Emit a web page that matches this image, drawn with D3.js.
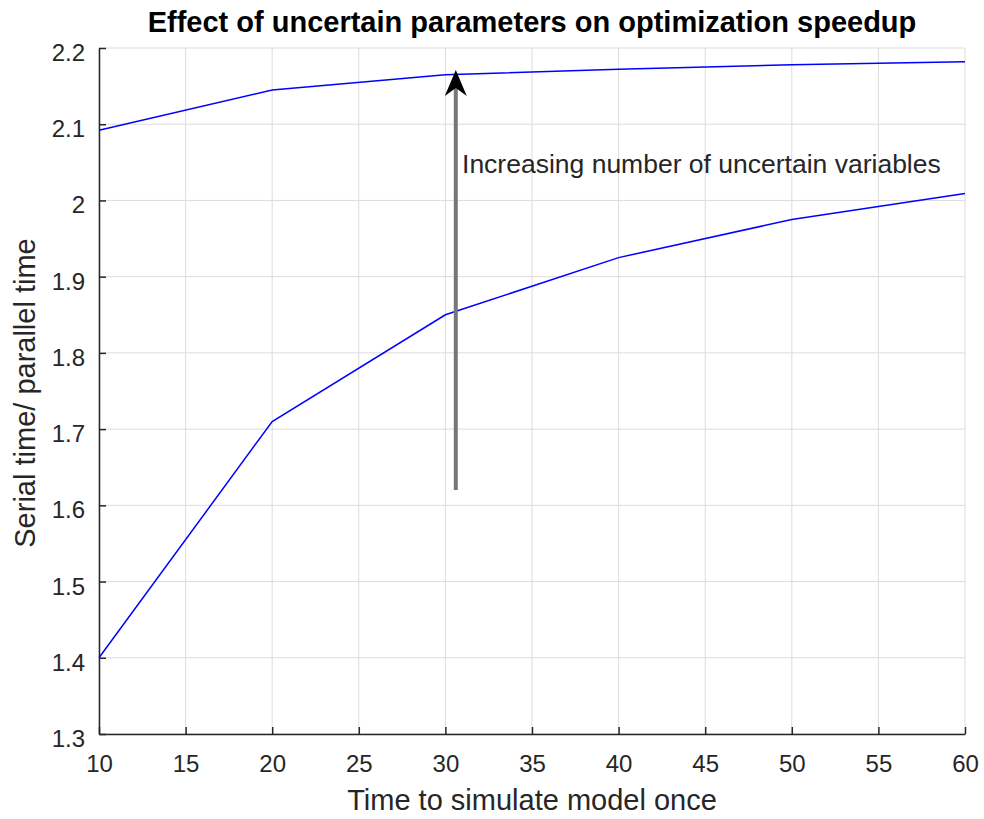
<!DOCTYPE html>
<html><head><meta charset="utf-8">
<script src="https://cdn.jsdelivr.net/npm/d3@7"></script>
<style>body{margin:0;background:#fff}svg text{font-family:"Liberation Sans",Arial,sans-serif}</style>
</head><body><svg id="c" width="984" height="819"></svg>
<script>
const xValues = [10, 20, 30, 40, 50, 60];
const upperSeries = [2.092, 2.145, 2.165, 2.172, 2.178, 2.182];
const lowerSeries = [1.400, 1.710, 1.850, 1.925, 1.975, 2.009];
const xTicks = [10, 15, 20, 25, 30, 35, 40, 45, 50, 55, 60];
const yTicks = [1.3, 1.4, 1.5, 1.6, 1.7, 1.8, 1.9, 2.0, 2.1, 2.2];
const arrowFrom = [30.6, 1.62];
const arrowTo = [30.6, 2.171];
const annotation = "Increasing number of uncertain variables";
const annotationPos = [30.96, 2.036];

const svg = d3.select("#c");
const m = {l: 99, r: 965, t: 48, b: 734};
const x = d3.scaleLinear().domain([10, 60]).range([m.l, m.r]);
const y = d3.scaleLinear().domain([1.3, 2.2]).range([m.b, m.t]);
const axisCol = "#262626";

// grid
svg.append("g").selectAll("line").data(xTicks).join("line")
  .attr("x1", d => x(d)).attr("x2", d => x(d)).attr("y1", m.t).attr("y2", m.b)
  .attr("stroke", "#dcdcdc").attr("stroke-width", 1);
svg.append("g").selectAll("line").data(yTicks).join("line")
  .attr("y1", d => y(d)).attr("y2", d => y(d)).attr("x1", m.l).attr("x2", m.r)
  .attr("stroke", "#dcdcdc").attr("stroke-width", 1);

// axes
const xAxis = svg.append("g").attr("transform", `translate(0,${m.b})`)
  .call(d3.axisBottom(x).tickValues(xTicks).tickSizeInner(-7).tickSizeOuter(0).tickPadding(21).tickFormat(d3.format("d")));
const yAxis = svg.append("g").attr("transform", `translate(${m.l},0)`)
  .call(d3.axisLeft(y).tickValues(yTicks).tickSizeInner(-7).tickSizeOuter(0).tickPadding(14).tickFormat(d => d === 2 ? "2" : d3.format(".1f")(d)));
[xAxis, yAxis].forEach(a => {
  a.select(".domain").attr("stroke", axisCol).attr("stroke-width", 1.5);
  a.selectAll(".tick line").attr("stroke", axisCol).attr("stroke-width", 1.5);
  a.selectAll(".tick text").attr("fill", axisCol).attr("font-size", 24);
});
xAxis.selectAll(".tick text").attr("dy", "0.71em");
yAxis.selectAll(".tick text").attr("dy", "0.52em");

// lines
const line = d3.line().x((d, i) => x(xValues[i])).y(d => y(d));
[upperSeries, lowerSeries].forEach(s => {
  svg.append("path").datum(s).attr("d", line).attr("fill", "none")
    .attr("stroke", "#0000ff").attr("stroke-width", 1.5);
});

// arrow
const ax = x(arrowFrom[0]), ay0 = y(arrowFrom[1]), ay1 = y(arrowTo[1]);
svg.append("line").attr("x1", ax).attr("x2", ax).attr("y1", ay0).attr("y2", ay1 + 14)
  .attr("stroke", "#777").attr("stroke-width", 4);
svg.append("path")
  .attr("d", `M${ax},${ay1} L${ax - 11},${ay1 + 26} L${ax},${ay1 + 18} L${ax + 11},${ay1 + 26} Z`)
  .attr("fill", "#000");

svg.append("text").attr("x", x(annotationPos[0])).attr("y", y(annotationPos[1]))
  .attr("font-size", 26.5).attr("fill", "#262626").text(annotation);

// title & labels
svg.append("text").attr("x", (m.l + m.r) / 2).attr("y", 32).attr("text-anchor", "middle")
  .attr("font-size", 29).attr("font-weight", "bold").attr("fill", "#000")
  .text("Effect of uncertain parameters on optimization speedup");
svg.append("text").attr("x", (m.l + m.r) / 2).attr("y", 810).attr("text-anchor", "middle")
  .attr("font-size", 29).attr("fill", axisCol).text("Time to simulate model once");
svg.append("text").attr("transform", `translate(35,${(m.t + m.b) / 2 + 2}) rotate(-90)`)
  .attr("text-anchor", "middle").attr("font-size", 29).attr("fill", axisCol)
  .text("Serial time/ parallel time");
</script></body></html>
